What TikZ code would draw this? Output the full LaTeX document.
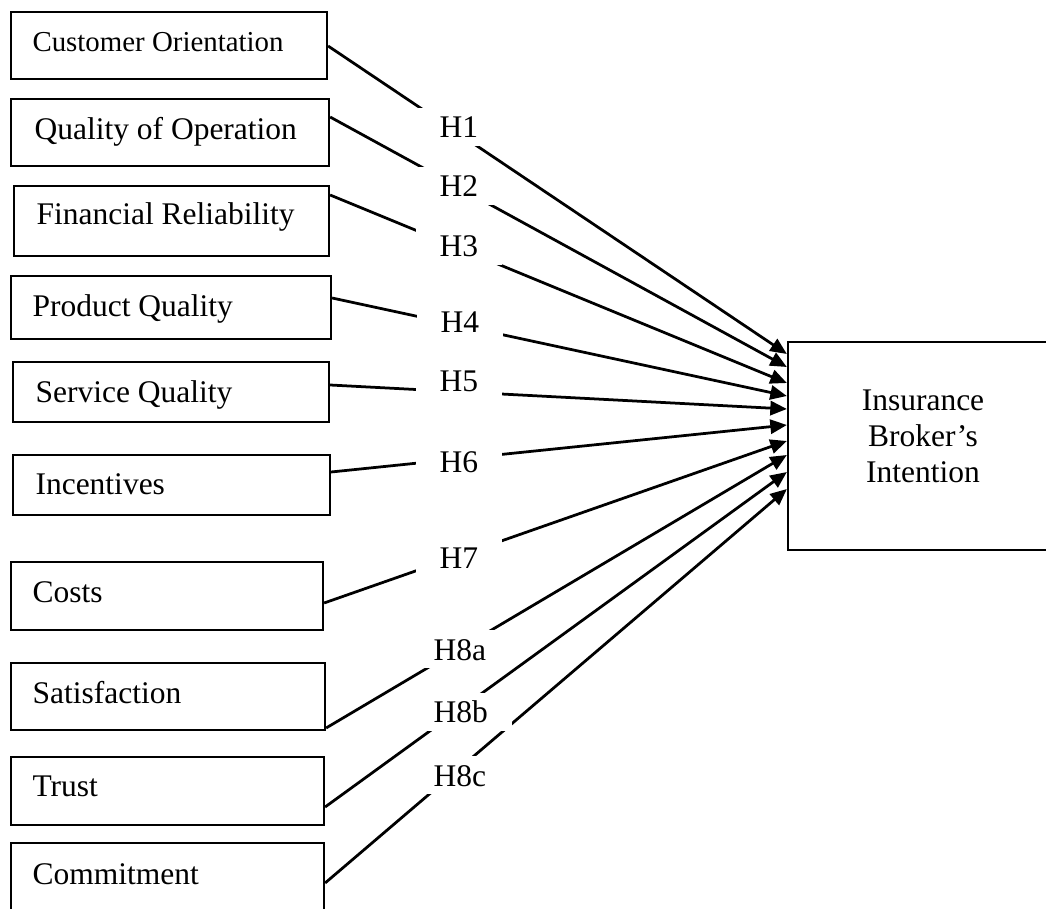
\documentclass[tikz,border=0pt]{standalone}
\usepackage{fontspec}
\setmainfont{Liberation Serif}
\usetikzlibrary{arrows.meta,fit}
\begin{document}
\begin{tikzpicture}[x=0.380952pt,y=-0.380952pt,
  factor/.style={draw, line width=0.85pt, inner sep=0pt},
  ftext/.style={anchor=base west, inner sep=0pt, font=\fontsize{12}{13.7}\selectfont},
  hyp/.style={anchor=base west, fill=white, inner xsep=9.14pt, inner ysep=0pt,
    text height=11.43pt, text depth=3.05pt, font=\fontsize{12}{13.7}\selectfont},
  conn/.style={line width=1.05pt, -{Triangle[length=6.3pt,width=5.4pt]}}]
\useasboundingbox (0,0) rectangle (1046,909);
\clip (0,0) rectangle (1046,909);
% factor boxes
\node[factor, fit={(11,12) (327,79)}] (b1) {};
\node[factor, fit={(11,99) (329,166)}] (b2) {};
\node[factor, fit={(14,186) (329,256)}] (b3) {};
\node[factor, fit={(11,276) (331,339)}] (b4) {};
\node[factor, fit={(13,362) (329,422)}] (b5) {};
\node[factor, fit={(13,455) (330,515)}] (b6) {};
\node[factor, fit={(11,562) (323,630)}] (b7) {};
\node[factor, fit={(11,663) (325,730)}] (b8) {};
\node[factor, fit={(11,757) (324,825)}] (b9) {};
\node[factor, fit={(11,843) (324,930)}] (b10) {};
% target box
\node[factor, fit={(788,342) (1058,550)}] (t) {};
% texts
\node[ftext, font=\fontsize{11}{12.6}\selectfont] (x1) at (32,52) {Customer Orientation};
\node[ftext] (x2) at (34,140) {Quality of Operation};
\node[ftext] (x3) at (36,225) {Financial Reliability};
\node[ftext] (x4) at (32,317) {Product Quality};
\node[ftext] (x5) at (35,403) {Service Quality};
\node[ftext] (x6) at (35,495) {Incentives};
\node[ftext] (x7) at (32,602) {Costs};
\node[ftext] (x8) at (32,704) {Satisfaction};
\node[ftext] (x9) at (32,797) {Trust};
\node[ftext] (x10) at (32,884) {Commitment};
\node[align=center, inner sep=0pt, font=\fontsize{12}{13.7}\selectfont] (tt) at (923,436) {Insurance\\Broker’s\\Intention};
% connectors
\draw[conn] (b1.east |- 0,46) -- (t.west |- 0,354);
\draw[conn] (b2.east |- 0,117) -- (t.west |- 0,367);
\draw[conn] (b3.east |- 0,195) -- (t.west |- 0,383);
\draw[conn] (b4.east |- 0,298) -- (t.west |- 0,396);
\draw[conn] (b5.east |- 0,385) -- (t.west |- 0,409);
\draw[conn] (b6.east |- 0,472) -- (t.west |- 0,425);
\draw[conn] (b7.east |- 0,603) -- (t.west |- 0,441);
\draw[conn] (b8.east |- 0,728) -- (t.west |- 0,455);
\draw[conn] (b9.east |- 0,807) -- (t.west |- 0,472);
\draw[conn] (b10.east |- 0,883) -- (t.west |- 0,489);
% hypothesis labels
\node[hyp] (h1) at (415,138) {H1};
\node[hyp] (h2) at (415,197) {H2};
\node[hyp] (h3) at (415,257) {H3};
\node[hyp] (h4) at (416,333) {H4};
\node[hyp] (h5) at (415,392) {H5};
\node[hyp] (h6) at (415,473) {H6};
\node[hyp] (h7) at (415,569) {H7};
\node[hyp] (h8a) at (409,660) {H8a};
\node[hyp] (h8b) at (409,723) {H8b};
\node[hyp] (h8c) at (409,786) {H8c};
\end{tikzpicture}
\end{document}
